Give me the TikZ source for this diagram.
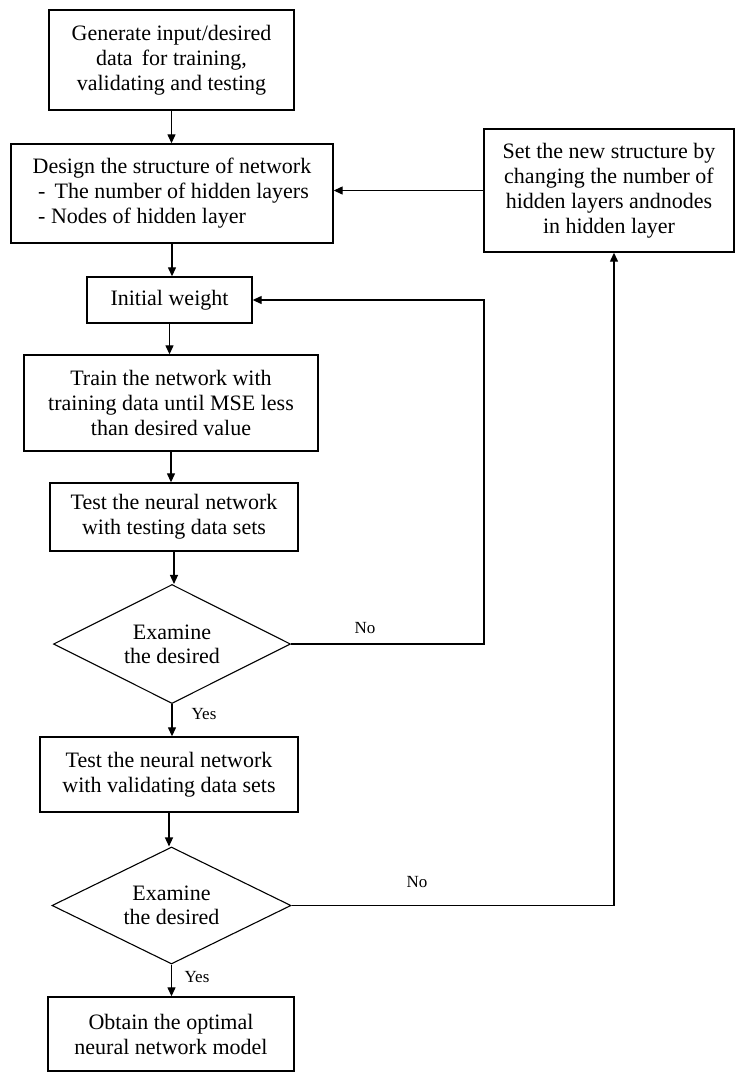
\documentclass[tikz,border=0pt]{standalone}
\usepackage{fontspec}
\setmainfont{Liberation Serif}
\usetikzlibrary{shapes.geometric,arrows.meta}
\begin{document}
\begin{tikzpicture}[x=1pt,y=-1pt,
  box/.style={draw,line width=1.4pt,align=center,inner sep=0pt,font=\fontsize{22}{25}\selectfont},
  dec/.style={draw,diamond,aspect=2,line width=1.1pt,inner sep=0pt,align=center,font=\fontsize{22}{24}\selectfont,minimum width=237pt,minimum height=119pt},
  arr/.style={-{Triangle[length=9pt,width=8pt]},line width=1.3pt},
  lab/.style={font=\fontsize{17}{19}\selectfont,inner sep=0pt}]
\useasboundingbox (0,0) rectangle (735,1072);
\node[box,minimum width=245pt,minimum height=100pt] (b1) at (171.5,60) {Generate input/desired\\data\, for training,\\validating and testing};
\node[box,align=left,minimum width=322pt,minimum height=99pt] (b2) at (172,193.5) {Design the structure of network\\\ - \,The number of hidden layers\\\ - Nodes of hidden layer};
\node[box,minimum width=250pt,minimum height=123pt] (br) at (609,190.5) {Set the new structure by\\changing the number of\\hidden layers andnodes\\in hidden layer};
\node[box,minimum width=165pt,minimum height=46pt] (b3) at (169.5,300) {Initial weight};
\node[box,minimum width=294pt,minimum height=96pt] (b4) at (171,403) {Train the network with\\training data until MSE less\\than desired value};
\node[box,minimum width=248pt,minimum height=68pt] (b5) at (174,517) {Test the neural network\\with testing data sets};
\node[dec] (d1) at (172,644) {Examine\\the desired};
\node[box,minimum width=258pt,minimum height=75pt] (b6) at (169,774.5) {Test the neural network\\with validating data sets};
\node[dec,minimum width=239pt,minimum height=117pt] (d2) at (171.5,905.5) {Examine\\the desired};
\node[box,minimum width=246pt,minimum height=74pt] (b7) at (171,1034) {Obtain the optimal\\neural network model};
\node[lab] (no1) at (365,628) {No};
\node[lab] (yes1) at (204,714) {Yes};
\node[lab] (no2) at (417,882) {No};
\node[lab] (yes2) at (197,977) {Yes};
\coordinate (c1) at (484,644);
\coordinate (c2) at (614,905.5);
\draw[arr] (b1.south) -- (b1.south |- b2.north);
\draw[arr] (b2.south) -- (b2.south |- b3.north);
\draw[arr] (b3.south) -- (b3.south |- b4.north);
\draw[arr] (b4.south) -- (b4.south |- b5.north);
\draw[arr] (b5.south) -- (b5.south |- d1.north);
\draw[arr] (d1.south) -- (d1.south |- b6.north);
\draw[arr] (b6.south) -- (b6.south |- d2.north);
\draw[arr] (d2.south) -- (d2.south |- b7.north);
\draw[arr] (br.west) -- (br.west -| b2.east);
\draw[arr] (d1.east) -- (c1) |- (b3.east);
\draw[arr] (d2.east) -- (c2) -- (c2 |- br.south);
\end{tikzpicture}
\end{document}
